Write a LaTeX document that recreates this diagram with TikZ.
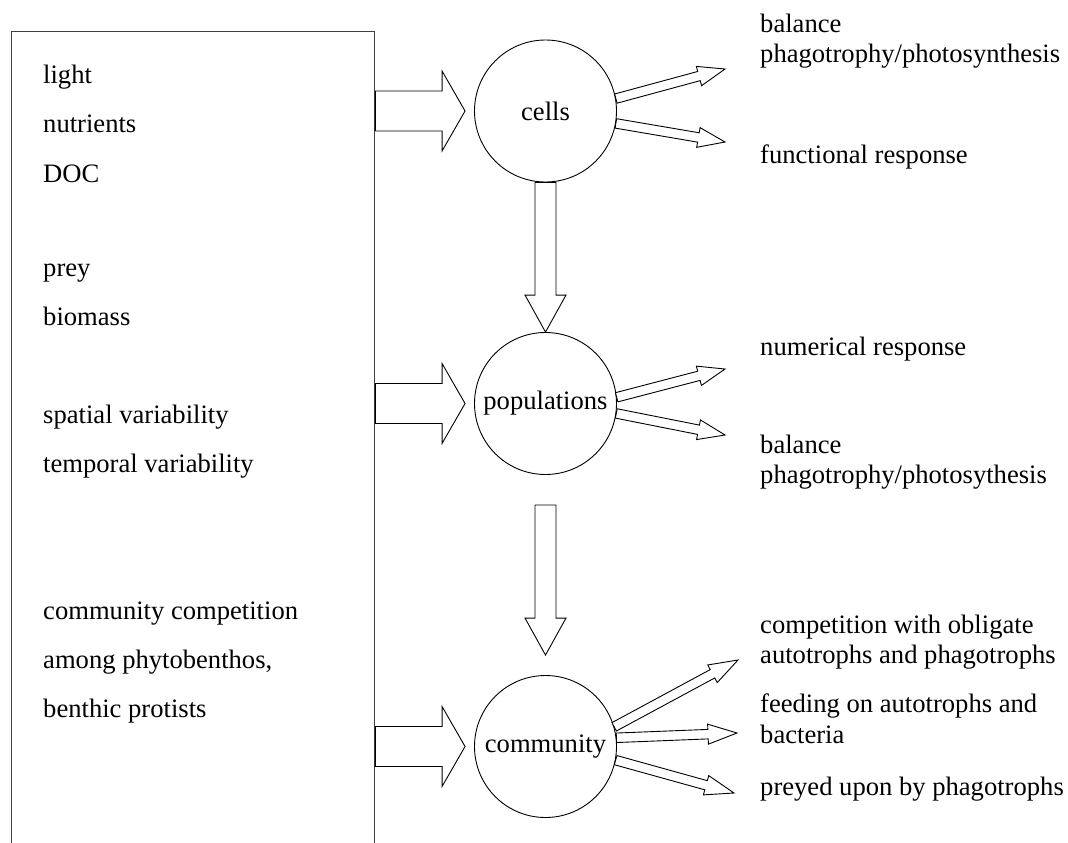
\documentclass[tikz,border=0pt]{standalone}
\usepackage{fontspec}
\setmainfont{Liberation Serif}
\usetikzlibrary{calc, positioning}

% hollow block arrow: from, to, half shaft, half head, head length
\newcommand{\blockarrow}[5]{%
  \coordinate (neck) at ($(#2)!#5!(#1)$);
  \draw[arrowline] ($(#1)!#3!90:(#2)$) -- ($(neck)!#3!90:(#2)$) -- ($(neck)!#4!90:(#2)$) -- (#2)
    -- ($(neck)!#4!-90:(#2)$) -- ($(neck)!#3!-90:(#2)$) -- ($(#1)!#3!-90:(#2)$) -- cycle;
}

\begin{document}
\begin{tikzpicture}[
    x=1pt, y=-1pt,
    font=\fontsize{26.6}{30}\selectfont,
    lbl/.style={anchor=base west, inner sep=0pt},
    level/.style={draw, circle, line width=0.9pt, minimum size=142pt, inner sep=0pt},
    inbox/.style={draw=black!75, line width=1.4pt, minimum width=363pt, minimum height=840pt, anchor=north west},
    arrowline/.style={draw, line width=0.9pt, line join=miter, fill=white},
]
    \useasboundingbox (0,0) rectangle (1068,843);

    \node[inbox] (inputs) at (11,31) {};

    \node[lbl] (t1) at (43,83) {light};
    \node[lbl] (t2) at (43,132) {nutrients};
    \node[lbl] (t3) at (43,182) {DOC};
    \node[lbl] (t4) at (43,276) {prey};
    \node[lbl] (t5) at (43,325) {biomass};
    \node[lbl] (t6) at (43,423) {spatial variability};
    \node[lbl] (t7) at (43,472) {temporal variability};
    \node[lbl] (t8) at (43,619) {community competition};
    \node[lbl] (t9) at (43,668) {among phytobenthos,};
    \node[lbl] (t10) at (43,717) {benthic protists};

    \node[level] (cells) at (545.5,111) {cells};
    \node[level] (pops) at (545.5,403.5) {populations};
    \node[level] (comm) at (545.5,746.5) {community};

    % inputs into each level
    \coordinate (a1) at (inputs.east|-cells.west);
    \coordinate (b1) at ($(cells.west)+(-9,0)$);
    \coordinate (a2) at (inputs.east|-pops.west);
    \coordinate (b2) at ($(pops.west)+(-9,0)$);
    \coordinate (a3) at (inputs.east|-comm.west);
    \coordinate (b3) at ($(comm.west)+(-9,0)$);
    \blockarrow{a1}{b1}{20pt}{40pt}{23pt}
    \blockarrow{a2}{b2}{20pt}{40pt}{23pt}
    \blockarrow{a3}{b3}{20pt}{40pt}{23pt}

    % level to level
    \blockarrow{cells.south}{pops.north}{10.5pt}{20.5pt}{37pt}
    \coordinate (d1) at ($(pops.south)+(0,30)$);
    \coordinate (d2) at ($(comm.north)+(0,-20)$);
    \blockarrow{d1}{d2}{10.5pt}{20.5pt}{37pt}

    % outputs
    \coordinate (o1) at (725,69);
    \coordinate (o2) at (725,142);
    \coordinate (o3) at (725,369);
    \coordinate (o4) at (725,435);
    \coordinate (o5) at (738,660);
    \coordinate (o6) at (737,733);
    \coordinate (o7) at (734,793);
    \blockarrow{cells.10}{o1}{4.75pt}{10pt}{27pt}
    \blockarrow{cells.-10}{o2}{4.75pt}{10pt}{27pt}
    \blockarrow{pops.5}{o3}{4.75pt}{10pt}{27pt}
    \blockarrow{pops.-8}{o4}{4.75pt}{10pt}{27pt}
    \blockarrow{comm.16}{o5}{4.75pt}{10pt}{29pt}
    \blockarrow{comm.7}{o6}{4.75pt}{10pt}{29pt}
    \blockarrow{comm.-11}{o7}{4.75pt}{10pt}{29pt}

    \node[lbl] (r1) at (760,33) {balance};
    \node[lbl] (r2) at (760,63) {phagotrophy/photosynthesis};
    \node[lbl] (r3) at (760,163) {functional response};
    \node[lbl] (r4) at (760,355) {numerical response};
    \node[lbl] (r5) at (760,453) {balance};
    \node[lbl] (r6) at (760,483) {phagotrophy/photosythesis};
    \node[lbl] (r7) at (760,633) {competition with obligate};
    \node[lbl] (r8) at (760,663) {autotrophs and phagotrophs};
    \node[lbl] (r9) at (760,712) {feeding on autotrophs and};
    \node[lbl] (r10) at (760,743) {bacteria};
    \node[lbl] (r11) at (760,795) {preyed upon by phagotrophs};
\end{tikzpicture}
\end{document}
